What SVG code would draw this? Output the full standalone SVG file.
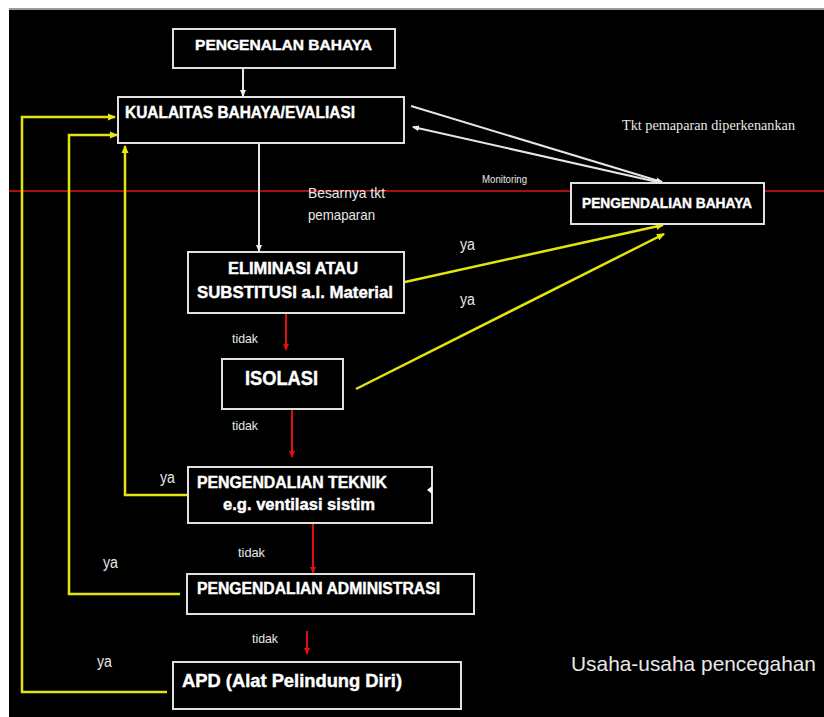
<svg xmlns="http://www.w3.org/2000/svg" width="824" height="717" viewBox="0 0 824 717">
<style>
.box{fill:#000;stroke:#e0e0e0;stroke-width:2}
.bt{font-family:"Liberation Sans",Arial,sans-serif;font-weight:bold;fill:#fff;stroke:#fff;stroke-width:0.4}
.lb{font-family:"Liberation Sans",Arial,sans-serif;fill:#e8e8e8}
.w{stroke:#e6e6e6;stroke-width:2;fill:none}
.r{stroke:#e01010;stroke-width:2;fill:none}
.y{stroke:#e4e40c;stroke-width:2.5;fill:none}
</style>
<defs>
<marker id="aw" markerWidth="8" markerHeight="8" refX="6" refY="4" orient="auto" markerUnits="userSpaceOnUse"><path d="M0,1 L7,4 L0,7 Z" fill="#f0f0f0"/></marker>
<marker id="ar" markerWidth="8" markerHeight="8" refX="6" refY="4" orient="auto" markerUnits="userSpaceOnUse"><path d="M0,1 L7,4 L0,7 Z" fill="#e01010"/></marker>
<marker id="ay" markerWidth="9" markerHeight="9" refX="7" refY="4.5" orient="auto" markerUnits="userSpaceOnUse"><path d="M0,1 L8,4.5 L0,8 Z" fill="#e8e810"/></marker>
</defs>
<rect x="0" y="0" width="824" height="717" fill="#fff"/>
<rect x="9" y="8" width="815" height="3" fill="#999"/>
<rect x="9" y="10" width="815" height="707" fill="#000"/>

<g id="connectors">
<line x1="9" y1="191" x2="824" y2="191" stroke="#a81010" stroke-width="2"/>
<line class="w" x1="243" y1="68" x2="243" y2="96" marker-end="url(#aw)"/>
<line class="w" x1="259" y1="143" x2="259" y2="251" marker-end="url(#aw)"/>
<line class="w" x1="411" y1="106" x2="662" y2="182" marker-end="url(#aw)"/>
<line class="w" x1="662" y1="183" x2="413" y2="127" marker-end="url(#aw)"/>
<line class="r" x1="286" y1="314" x2="286" y2="350" marker-end="url(#ar)"/>
<line class="r" x1="292" y1="410" x2="292" y2="457" marker-end="url(#ar)"/>
<line class="r" x1="313" y1="523" x2="313" y2="573" marker-end="url(#ar)"/>
<line class="r" x1="307" y1="631" x2="307" y2="654" marker-end="url(#ar)"/>
<line class="y" x1="405" y1="282" x2="663" y2="225" marker-end="url(#ay)"/>
<line class="y" x1="356" y1="389" x2="664" y2="234" marker-end="url(#ay)"/>
<polyline class="y" points="187,495 125,495 125,146" marker-end="url(#ay)"/>
<polyline class="y" points="180,594 69,594 69,135 117,135" marker-end="url(#ay)"/>
<polyline class="y" points="167,692 22,692 22,117 115,117" marker-end="url(#ay)"/>
</g>

<g id="pengenalan">
<rect class="box" x="173" y="29" width="222" height="39"/>
<text class="bt" x="195" y="50" font-size="15" textLength="177" lengthAdjust="spacingAndGlyphs">PENGENALAN BAHAYA</text>
</g>
<g id="kualaitas">
<rect class="box" x="118" y="97" width="286" height="46"/>
<text class="bt" x="125" y="118" font-size="16" textLength="230" lengthAdjust="spacingAndGlyphs">KUALAITAS BAHAYA/EVALIASI</text>
</g>
<g id="pengendalian-bahaya">
<rect class="box" x="571" y="183" width="193" height="41"/>
<text class="bt" x="582" y="208" font-size="14" textLength="170" lengthAdjust="spacingAndGlyphs">PENGENDALIAN  BAHAYA</text>
</g>
<g id="eliminasi">
<rect class="box" x="188" y="252" width="216" height="61"/>
<text class="bt" x="228" y="274" font-size="16" textLength="130" lengthAdjust="spacingAndGlyphs">ELIMINASI  ATAU</text>
<text class="bt" x="197" y="298" font-size="16" textLength="196" lengthAdjust="spacingAndGlyphs">SUBSTITUSI  a.l. Material</text>
</g>
<g id="isolasi">
<rect class="box" x="222" y="359" width="121" height="50"/>
<text class="bt" x="245" y="385" font-size="20" textLength="73" lengthAdjust="spacingAndGlyphs">ISOLASI</text>
</g>
<g id="teknik">
<rect class="box" x="188" y="467" width="244" height="56"/>
<text class="bt" x="197" y="488" font-size="16" textLength="190" lengthAdjust="spacingAndGlyphs">PENGENDALIAN TEKNIK</text>
<text class="bt" x="223" y="510" font-size="16" textLength="152" lengthAdjust="spacingAndGlyphs">e.g. ventilasi sistim</text>
<path d="M427,490 L432,486 L432,494 Z" fill="#fff"/>
</g>
<g id="administrasi">
<rect class="box" x="187" y="574" width="287" height="40"/>
<text class="bt" x="197" y="594" font-size="16" textLength="243" lengthAdjust="spacingAndGlyphs">PENGENDALIAN ADMINISTRASI</text>
</g>
<g id="apd">
<rect class="box" x="173" y="662" width="288" height="47"/>
<text class="bt" x="182" y="687" font-size="18" textLength="220" lengthAdjust="spacingAndGlyphs">APD (Alat Pelindung Diri)</text>
</g>

<g id="labels">
<text x="622" y="130" font-family="Liberation Serif,serif" font-size="14" fill="#e8e8e8" textLength="173" lengthAdjust="spacingAndGlyphs">Tkt pemaparan diperkenankan</text>
<text class="lb" x="482" y="183" font-size="10" textLength="45" lengthAdjust="spacingAndGlyphs">Monitoring</text>
<text class="lb" x="308" y="198" font-size="15" textLength="77" lengthAdjust="spacingAndGlyphs">Besarnya tkt</text>
<text class="lb" x="308" y="220" font-size="15" textLength="67" lengthAdjust="spacingAndGlyphs">pemaparan</text>
<text class="lb" x="460" y="250" font-size="16" textLength="15" lengthAdjust="spacingAndGlyphs">ya</text>
<text class="lb" x="460" y="305" font-size="16" textLength="15" lengthAdjust="spacingAndGlyphs">ya</text>
<text class="lb" x="160" y="483" font-size="16" textLength="15" lengthAdjust="spacingAndGlyphs">ya</text>
<text class="lb" x="103" y="568" font-size="16" textLength="15" lengthAdjust="spacingAndGlyphs">ya</text>
<text class="lb" x="97" y="667" font-size="16" textLength="15" lengthAdjust="spacingAndGlyphs">ya</text>
<text class="lb" x="232" y="343" font-size="13" textLength="26" lengthAdjust="spacingAndGlyphs">tidak</text>
<text class="lb" x="232" y="430" font-size="13" textLength="26" lengthAdjust="spacingAndGlyphs">tidak</text>
<text class="lb" x="238" y="557" font-size="13" textLength="27" lengthAdjust="spacingAndGlyphs">tidak</text>
<text class="lb" x="252" y="643" font-size="13" textLength="26" lengthAdjust="spacingAndGlyphs">tidak</text>
<text class="lb" x="571" y="671" font-size="21" textLength="245" lengthAdjust="spacingAndGlyphs">Usaha-usaha pencegahan</text>
</g>
</svg>
